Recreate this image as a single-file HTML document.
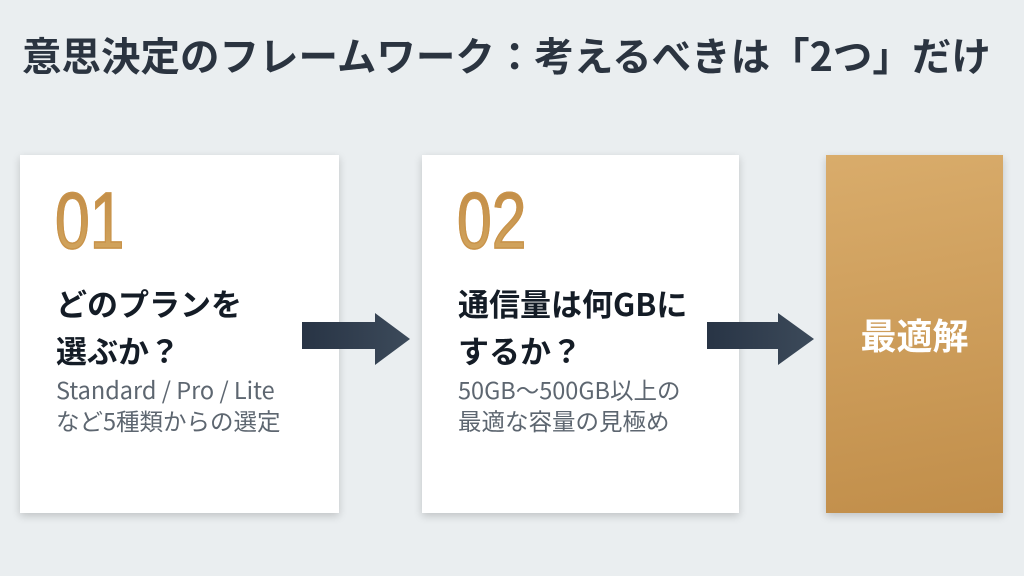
<!DOCTYPE html>
<html><head><meta charset="utf-8"><style>
body{margin:0;width:1024px;height:576px;background:#eaeef0;position:relative;overflow:hidden;font-family:"Noto Sans CJK JP",sans-serif}
.t{position:absolute;left:22px;top:27px;font-size:39.5px;font-weight:bold;color:#2b3440;white-space:nowrap;line-height:56px}
.card{position:absolute;top:155px;height:358px;background:#fff;box-shadow:0 3px 8px rgba(0,0,0,0.18)}
.num{position:absolute;left:35px;top:26px;font-family:"Liberation Sans",sans-serif;font-size:80px;font-weight:normal;transform:scaleX(0.78);transform-origin:left top;line-height:1;background:linear-gradient(#c08a45,#d4a861);-webkit-background-clip:text;color:transparent;-webkit-text-stroke:1.5px #c9934a}
.h{position:absolute;left:36px;top:124px;font-size:31px;font-weight:bold;color:#141c26;line-height:47px;white-space:nowrap}
.s{position:absolute;left:36px;top:219px;font-size:23.5px;color:#5d6670;line-height:31px;white-space:nowrap}
.gold{position:absolute;left:826px;top:155px;width:177px;height:358px;background:linear-gradient(170deg,#d9ac6b,#c18e4a);box-shadow:0 3px 8px rgba(0,0,0,0.18);color:#fff;font-weight:bold;font-size:36px;display:flex;align-items:center;justify-content:center}
</style></head><body>
<div class="t">意思決定のフレームワーク：考えるべきは「2つ」だけ</div>
<div class="card" style="left:20px;width:319px">
<div class="num">01</div>
<div class="h">どのプランを<br>選ぶか？</div>
<div class="s">Standard / Pro / Lite<br>など5種類からの選定</div>
</div>
<div class="card" style="left:422px;width:317px">
<div class="num">02</div>
<div class="h">通信量は何GBに<br>するか？</div>
<div class="s">50GB〜500GB以上の<br>最適な容量の見極め</div>
</div>
<div class="gold">最適解</div>
<svg style="position:absolute;left:0;top:0" width="1024" height="576">
<defs><linearGradient id="a"><stop offset="0" stop-color="#283445"/><stop offset="1" stop-color="#3c4a5a"/></linearGradient></defs>
<polygon points="302,322 375,322 375,313 410,339 375,365 375,349 302,349" fill="url(#a)"/>
<polygon points="707,322 778,322 778,313 814,339 778,365 778,349 707,349" fill="url(#a)"/>
</svg>
</body></html>
